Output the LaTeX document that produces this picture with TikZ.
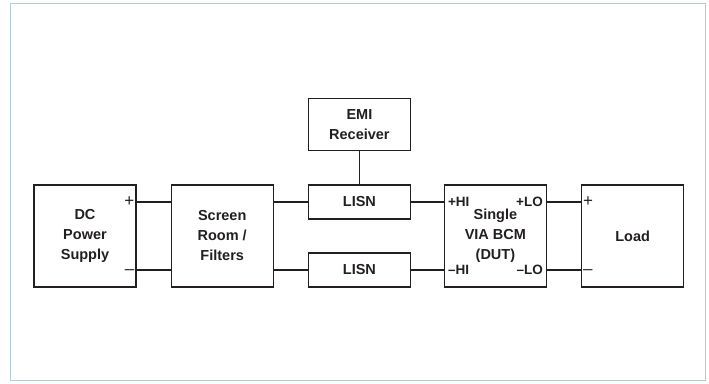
\documentclass[tikz,border=0pt]{standalone}
\usepackage{fontspec}
\setmainfont{Liberation Sans}
\usepackage{xcolor}
\definecolor{frameBlue}{HTML}{B3CDD4}
\definecolor{lineDark}{HTML}{231F20}
\usetikzlibrary{positioning}

\begin{document}
\begin{tikzpicture}[
    x=1pt, y=1pt,
    blockBox/.style={
        rectangle,
        draw=lineDark,
        line width=1.2pt,
        minimum width=102pt,
        minimum height=102pt,
        inner sep=0pt,
        align=center,
        text=lineDark,
        font=\fontsize{14.5}{20}\selectfont\bfseries
    },
    lisnBox/.style={blockBox, minimum height=34pt},
    emiBox/.style={blockBox, minimum height=52pt},
    portLabel/.style={
        inner sep=2pt,
        text=lineDark,
        font=\fontsize{17}{18}\selectfont
    },
    minusLabel/.style={portLabel, yshift=-2.5pt},
    portBold/.style={
        portLabel,
        inner sep=4pt,
        font=\fontsize{13.5}{16}\selectfont\bfseries
    },
    wireLine/.style={
        draw=lineDark,
        line width=1.2pt
    }
]
\useasboundingbox (0,0) rectangle (709,383);

% Outer frame
\draw[frameBlue, line width=1pt] (10.5,2.5) rectangle (705.5,379.2);

% Main blocks
\node[blockBox] (dc) at (85,147) {DC\\Power\\Supply};
\node[blockBox, right=34pt of dc] (screen) {Screen\\Room /\\Filters};
\node[lisnBox, anchor=north west] (lisnTop) at ([xshift=34pt]screen.north east) {LISN};
\node[lisnBox, anchor=south west] (lisnBot) at ([xshift=34pt]screen.south east) {LISN};
\node[emiBox, above=33pt of lisnTop] (emi) {EMI\\Receiver};
\node[blockBox, right=170pt of screen] (dut) {Single\\VIA BCM\\(DUT)};
\node[blockBox, right=34pt of dut] (load) {Load};

% Terminal labels
\node[portLabel, anchor=east] (dcPlus) at (dc.east |- lisnTop) {+};
\node[minusLabel, anchor=east] (dcMinus) at (dc.east |- lisnBot) {–};
\node[portBold, anchor=west] (dutHiPlus) at (dut.west |- lisnTop) {+HI};
\node[portBold, anchor=west] (dutHiMinus) at (dut.west |- lisnBot) {–HI};
\node[portBold, anchor=east] (dutLoPlus) at (dut.east |- lisnTop) {+LO};
\node[portBold, anchor=east] (dutLoMinus) at (dut.east |- lisnBot) {–LO};
\node[portLabel, anchor=west] (loadPlus) at (load.west |- lisnTop) {+};
\node[minusLabel, anchor=west] (loadMinus) at (load.west |- lisnBot) {–};

% Wiring
\draw[wireLine] (dc.east |- lisnTop) -- (screen.west |- lisnTop);
\draw[wireLine] (dc.east |- lisnBot) -- (screen.west |- lisnBot);
\draw[wireLine] (screen.east |- lisnTop) -- (lisnTop.west);
\draw[wireLine] (screen.east |- lisnBot) -- (lisnBot.west);
\draw[wireLine] (lisnTop.east) -- (dut.west |- lisnTop);
\draw[wireLine] (lisnBot.east) -- (dut.west |- lisnBot);
\draw[wireLine] (dut.east |- lisnTop) -- (load.west |- lisnTop);
\draw[wireLine] (dut.east |- lisnBot) -- (load.west |- lisnBot);
\draw[wireLine] (emi) -- (lisnTop);

\end{tikzpicture}
\end{document}
